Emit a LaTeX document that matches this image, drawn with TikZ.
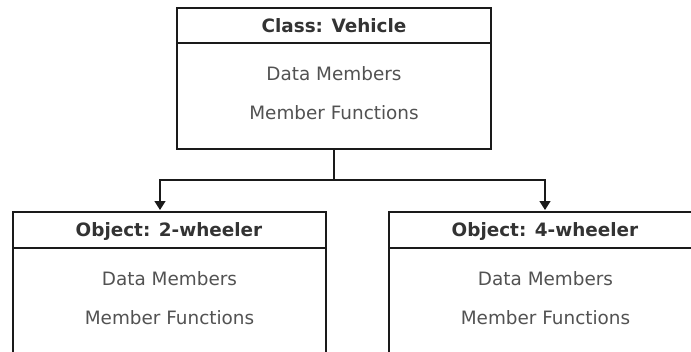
\documentclass[tikz,border=0pt]{standalone}
\usepackage{fontspec}
\setmainfont{DejaVu Sans}
\usetikzlibrary{arrows.meta}
\definecolor{linec}{HTML}{1A1A1A}
\definecolor{txtc}{HTML}{333333}
\tikzset{
  boxshape/.style={draw=linec, line width=1.4pt, fill=white, rectangle, inner sep=0pt},
  sepline/.style={draw=linec, line width=1.4pt},
  headtxt/.style={font=\fontsize{18.4}{22}\selectfont\bfseries, text=txtc, inner sep=0pt},
  bodytxt/.style={font=\fontsize{18.4}{22}\selectfont, text=txtc!85!white, inner sep=0pt},
  conn/.style={draw=linec, line width=1.4pt, -{Triangle[width=11pt,length=9pt]}},
}
\begin{document}
\begin{tikzpicture}[x=1pt,y=-1pt]
\useasboundingbox (0,0) rectangle (691,351);
\clip (0,0) rectangle (691,351);
\fill[white] (0,0) rectangle (691,351);
% top class box
\node[boxshape, minimum width=314pt, minimum height=141pt] (cls) at (334,78.5) {};
\draw[sepline] (177,43) -- (491,43);
\node[headtxt] (clsh) at (334,26) {Class: Vehicle};
\node[bodytxt] (clsd) at (334,74) {Data Members};
\node[bodytxt] (clsf) at (334,113) {Member Functions};
% left object box
\node[boxshape, minimum width=313pt, minimum height=150pt] (lb) at (169.5,287) {};
\draw[sepline] (13,248) -- (326,248);
\node[headtxt] (lbh) at (169,231) {Object: 2-wheeler};
\node[bodytxt] (lbd) at (169.5,279) {Data Members};
\node[bodytxt] (lbf) at (169.5,318) {Member Functions};
% right object box
\node[boxshape, minimum width=313pt, minimum height=150pt] (rb) at (545.5,287) {};
\draw[sepline] (389,248) -- (702,248);
\node[headtxt] (rbh) at (545,231) {Object: 4-wheeler};
\node[bodytxt] (rbd) at (545.5,279) {Data Members};
\node[bodytxt] (rbf) at (545.5,318) {Member Functions};
% connectors
\coordinate (jn) at (334,180);
\coordinate (lt) at (160,210);
\coordinate (rt) at (545,210);
\draw[conn] (cls.south) -- (jn) -| (lt);
\draw[conn] (jn) -| (rt);
\end{tikzpicture}
\end{document}
